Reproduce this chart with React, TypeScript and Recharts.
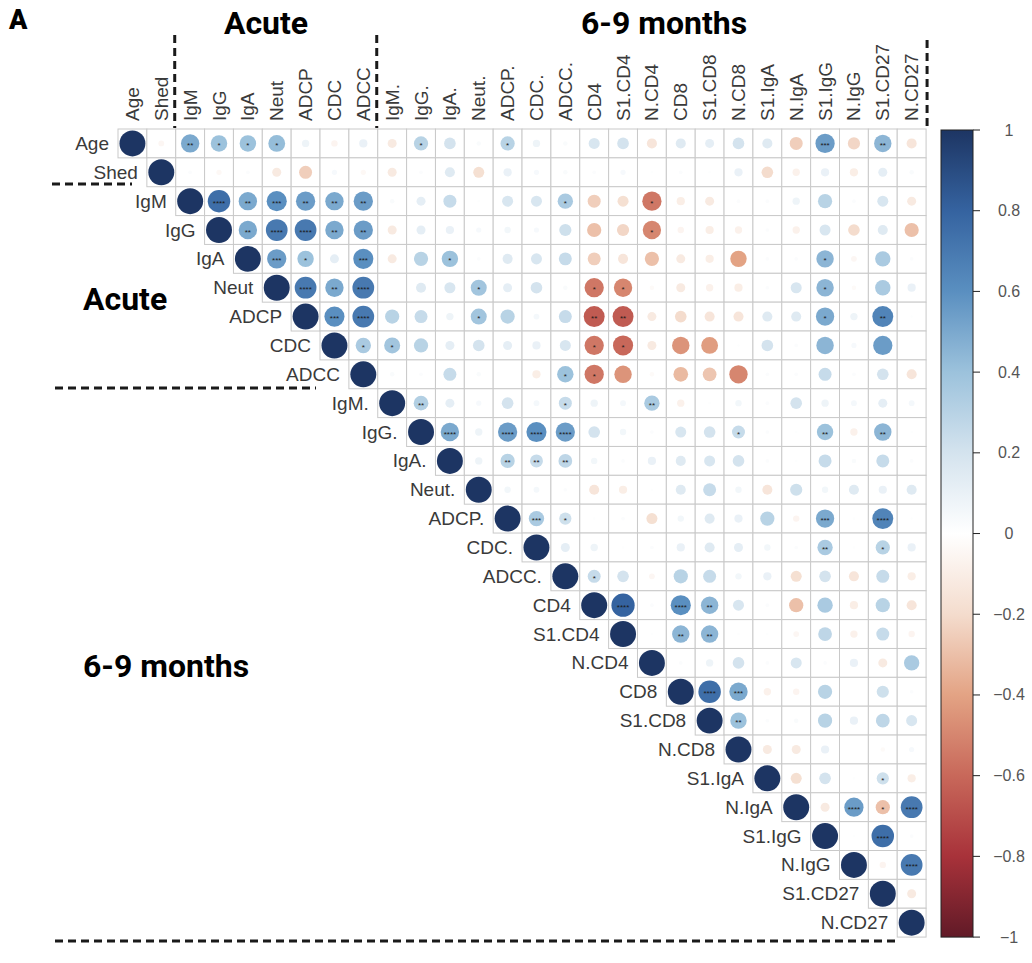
import React from "react";
import { ScatterChart, Scatter, XAxis, YAxis } from "recharts";

const variables = [
  "Age", "Shed", "IgM", "IgG", "IgA", "Neut", "ADCP", "CDC", "ADCC",
  "IgM.", "IgG.", "IgA.", "Neut.", "ADCP.", "CDC.", "ADCC.",
  "CD4", "S1.CD4", "N.CD4", "CD8", "S1.CD8", "N.CD8",
  "S1.IgA", "N.IgA", "S1.IgG", "N.IgG", "S1.CD27", "N.CD27",
];

// each row starts at the diagonal and runs to the last column
const rowAge = [1, -0.05, 0.5, 0.4, 0.4, 0.42, 0.08, -0.06, 0.1, -0.12, 0.3, 0.2, 0.03, 0.3, 0.08, 0.03, 0.18, 0.2, -0.15, 0.15, 0.12, 0.2, 0.15, -0.25, 0.55, -0.22, 0.45, -0.15];
const rowShed = [1, 0.02, -0.04, 0.02, -0.12, -0.25, 0.04, -0.04, -0.12, 0.02, 0.15, -0.18, 0.1, 0.04, 0.03, 0.02, 0.04, 0.01, 0.02, 0.01, 0.1, -0.2, -0.08, 0.1, -0.1, 0.12, 0.03];
const rowIgM = [1, 0.75, 0.5, 0.6, 0.55, 0.5, 0.55, 0.03, 0.12, 0.25, 0.01, 0.18, 0.18, 0.35, -0.25, -0.18, -0.55, -0.1, -0.12, 0.02, 0.02, 0.08, 0.3, 0.02, 0.18, -0.12];
const rowIgG = [1, 0.5, 0.7, 0.7, 0.5, 0.55, -0.12, 0.12, 0.1, 0.04, 0.06, 0.04, 0.22, -0.3, -0.22, -0.5, -0.06, -0.1, -0.08, 0.02, -0.08, 0.18, -0.2, 0.15, -0.3];
const rowIgA = [1, 0.55, 0.4, 0.12, 0.6, -0.12, 0.3, 0.4, 0.02, 0.15, 0.18, 0.25, -0.25, -0.15, -0.3, -0.12, -0.1, -0.4, 0.02, 0.02, 0.45, -0.05, 0.35, 0.02];
const rowNeut = [1, 0.7, 0.5, 0.7, 0, 0.15, 0.18, 0.38, 0.12, 0.2, 0.03, -0.55, -0.5, -0.03, -0.12, -0.08, -0.1, 0.02, 0.18, 0.45, -0.03, 0.35, 0.1];
const rowADCP = [1, 0.6, 0.7, 0.3, 0.25, 0.08, 0.38, 0.3, 0.05, 0.25, -0.65, -0.65, -0.12, -0.2, -0.15, -0.15, 0.15, 0.15, 0.5, 0.08, 0.65, 0.01];
const rowCDC = [1, 0.35, 0.38, 0.3, 0.12, 0.2, 0.12, 0.1, 0.18, -0.55, -0.6, -0.12, -0.45, -0.42, 0.01, 0.2, 0.02, 0.45, 0.04, 0.55, 0];
const rowADCC = [1, 0.03, 0.02, 0.25, 0.03, 0, -0.1, 0.4, -0.55, -0.45, -0.03, -0.32, -0.28, -0.5, 0.02, 0.02, 0.25, 0.02, 0.2, -0.15];
const rowIgM6 = [1, 0.32, 0.12, 0.04, 0.2, 0.05, 0.25, 0.08, 0.05, 0.35, -0.08, 0.01, 0.06, 0.02, 0.2, 0.08, 0.05, 0.12, 0.05];
const rowIgG6 = [1, 0.5, 0.08, 0.55, 0.6, 0.55, 0.2, 0.06, 0.02, 0.18, 0.2, 0.25, 0.02, 0.01, 0.4, -0.08, 0.45, 0.01];
const rowIgA6 = [1, 0.08, 0.3, 0.25, 0.28, 0.06, 0.02, 0.1, 0.15, 0.18, 0.2, 0.02, 0.01, 0.25, 0.03, 0.25, 0.02];
const rowNeut6 = [1, 0.06, 0.05, 0.02, -0.15, -0.1, 0.01, 0.15, 0.25, 0.06, -0.15, 0.22, 0.06, 0.15, 0.1, 0.15];
const rowADCP6 = [1, 0.35, 0.22, 0.01, 0.02, -0.18, 0.06, 0.15, 0.1, 0.3, -0.06, 0.5, 0.01, 0.65, 0.01];
const rowCDC6 = [1, 0.12, 0.08, 0.01, 0.02, 0.1, 0.15, 0.12, 0.06, 0.02, 0.35, 0.01, 0.3, 0.1];
const rowADCC6 = [1, 0.25, 0.2, -0.05, 0.3, 0.25, 0.06, 0.1, -0.18, 0.2, -0.15, 0.25, -0.1];
const rowCD4 = [1, 0.8, 0.02, 0.6, 0.45, 0.18, 0.02, -0.3, 0.35, -0.1, 0.3, -0.15];
const rowS1CD4 = [1, 0.01, 0.45, 0.45, 0.01, 0.01, -0.05, 0.28, -0.08, 0.25, -0.06];
const rowNCD4 = [1, 0.02, 0.08, 0.2, 0.02, 0.18, 0.02, 0.1, -0.12, 0.35];
const rowCD8 = [1, 0.75, 0.5, -0.08, -0.06, 0.3, 0, 0.22, 0.02];
const rowS1CD8 = [1, 0.4, 0.02, 0.03, 0.3, 0.1, 0.28, 0.18];
const rowNCD8 = [1, -0.12, -0.12, 0.1, 0, -0.03, 0.04];
const rowS1IgA = [1, -0.18, 0.2, 0.01, 0.22, -0.1];
const rowNIgA = [1, -0.12, 0.55, -0.3, 0.7];
const rowS1IgG = [1, 0.01, 0.75, 0.02];
const rowNIgG = [1, -0.06, 0.7];
const rowS1CD27 = [1, -0.12];
const rowNCD27 = [1];

const rows = [
  rowAge, rowShed, rowIgM, rowIgG, rowIgA, rowNeut, rowADCP, rowCDC, rowADCC,
  rowIgM6, rowIgG6, rowIgA6, rowNeut6, rowADCP6, rowCDC6, rowADCC6,
  rowCD4, rowS1CD4, rowNCD4, rowCD8, rowS1CD8, rowNCD8,
  rowS1IgA, rowNIgA, rowS1IgG, rowNIgG, rowS1CD27, rowNCD27,
];

// significance labels: [row, column, stars]
const significant: [string, string, string][] = [
  ["Age", "IgM", "**"], ["Age", "IgG", "*"], ["Age", "IgA", "*"], ["Age", "Neut", "*"],
  ["Age", "IgG.", "*"], ["Age", "ADCP.", "*"], ["Age", "S1.IgG", "***"], ["Age", "S1.CD27", "**"],
  ["IgM", "IgG", "****"], ["IgM", "IgA", "**"], ["IgM", "Neut", "***"], ["IgM", "ADCP", "**"],
  ["IgM", "CDC", "**"], ["IgM", "ADCC", "**"], ["IgM", "ADCC.", "*"], ["IgM", "N.CD4", "*"],
  ["IgG", "IgA", "**"], ["IgG", "Neut", "****"], ["IgG", "ADCP", "****"], ["IgG", "CDC", "**"],
  ["IgG", "ADCC", "**"], ["IgG", "N.CD4", "*"],
  ["IgA", "Neut", "***"], ["IgA", "ADCP", "*"], ["IgA", "ADCC", "***"], ["IgA", "IgA.", "*"], ["IgA", "S1.IgG", "*"],
  ["Neut", "ADCP", "****"], ["Neut", "CDC", "**"], ["Neut", "ADCC", "****"], ["Neut", "Neut.", "*"],
  ["Neut", "CD4", "*"], ["Neut", "S1.CD4", "*"], ["Neut", "S1.IgG", "*"],
  ["ADCP", "CDC", "***"], ["ADCP", "ADCC", "****"], ["ADCP", "Neut.", "*"], ["ADCP", "CD4", "**"],
  ["ADCP", "S1.CD4", "**"], ["ADCP", "S1.IgG", "*"], ["ADCP", "S1.CD27", "**"],
  ["CDC", "ADCC", "*"], ["CDC", "IgM.", "*"], ["CDC", "CD4", "*"], ["CDC", "S1.CD4", "*"],
  ["ADCC", "ADCC.", "*"], ["ADCC", "CD4", "*"],
  ["IgM.", "IgG.", "**"], ["IgM.", "ADCC.", "*"], ["IgM.", "N.CD4", "**"],
  ["IgG.", "IgA.", "****"], ["IgG.", "ADCP.", "****"], ["IgG.", "CDC.", "****"], ["IgG.", "ADCC.", "****"],
  ["IgG.", "N.CD8", "*"], ["IgG.", "S1.IgG", "**"], ["IgG.", "S1.CD27", "**"],
  ["IgA.", "ADCP.", "**"], ["IgA.", "CDC.", "**"], ["IgA.", "ADCC.", "**"],
  ["ADCP.", "CDC.", "***"], ["ADCP.", "ADCC.", "*"], ["ADCP.", "S1.IgG", "***"], ["ADCP.", "S1.CD27", "****"],
  ["CDC.", "S1.IgG", "**"], ["CDC.", "S1.CD27", "*"],
  ["ADCC.", "CD4", "*"],
  ["CD4", "S1.CD4", "****"], ["CD4", "CD8", "****"], ["CD4", "S1.CD8", "**"],
  ["S1.CD4", "CD8", "**"], ["S1.CD4", "S1.CD8", "**"],
  ["CD8", "S1.CD8", "****"], ["CD8", "N.CD8", "***"],
  ["S1.CD8", "N.CD8", "**"],
  ["S1.IgA", "S1.CD27", "*"],
  ["N.IgA", "N.IgG", "****"], ["N.IgA", "S1.CD27", "*"], ["N.IgA", "N.CD27", "****"],
  ["S1.IgG", "S1.CD27", "****"],
  ["N.IgG", "N.CD27", "****"],
];

const colorbarTicks = [1, 0.8, 0.6, 0.4, 0.2, 0, -0.2, -0.4, -0.6, -0.8, -1];
// RdBu ramp, slightly muted like the printed figure
const palette = ["#611a27", "#a8323a", "#c8685a", "#e3a384", "#f4dccd", "#ffffff", "#d4e3ee", "#9cc2dc", "#5a8fc0", "#3563a0", "#1d3563"];

const CELL = 28.86;
const LEFT = 118;
const TOP = 129;
const N = variables.length;
const SIZE = CELL * N;
const W = 1032;
const H = 963;
const AXIS_H = 30;
const LABEL_FONT = "'Liberation Sans', Arial, Helvetica, sans-serif";
const TITLE_FONT = "Roboto, 'Noto Sans', sans-serif";

function hexToRgb(h: string) {
  return [1, 3, 5].map((i) => parseInt(h.slice(i, i + 2), 16));
}

function corrColor(r: number) {
  const t = ((r + 1) / 2) * (palette.length - 1);
  const i = Math.min(Math.floor(t), palette.length - 2);
  const f = t - i;
  const a = hexToRgb(palette[i]);
  const b = hexToRgb(palette[i + 1]);
  const c = a.map((v, k) => Math.round(v + (b[k] - v) * f));
  return `rgb(${c[0]},${c[1]},${c[2]})`;
}

const starLookup: Record<string, string> = {};
significant.forEach(([r, c, s]) => {
  starLookup[r + "|" + c] = s;
});

const cells = rows.flatMap((vals, i) =>
  vals.map((r, k) => ({
    x: i + k,
    y: i,
    r,
    stars: starLookup[variables[i] + "|" + variables[i + k]] || "",
  }))
);
const diagonal = variables.map((name, i) => ({ x: i, y: i, name }));

function GridCell(props: any) {
  const { cx, cy } = props;
  const h = CELL / 2;
  return <rect x={cx - h} y={cy - h} width={CELL} height={CELL} fill="#fff" stroke="#c9c9c9" strokeWidth={1} />;
}

function CorrCircle(props: any) {
  const { cx, cy, payload } = props;
  const rad = 0.45 * Math.sqrt(Math.abs(payload.r)) * CELL;
  return (
    <g>
      {rad > 0 && <circle cx={cx} cy={cy} r={rad} fill={corrColor(payload.r)} />}
      {payload.stars && (
        <text x={cx} y={cy + 4.5} textAnchor="middle" fontSize={8} fill="#1a1a1a" fontFamily={LABEL_FONT}>
          {payload.stars}
        </text>
      )}
    </g>
  );
}

function RowLabel(props: any) {
  const { cx, cy, payload } = props;
  return (
    <text x={cx - CELL / 2 - 9} y={cy} textAnchor="end" dominantBaseline="central" fontSize={19} fill="#3a3a3a" fontFamily={LABEL_FONT}>
      {payload.name}
    </text>
  );
}

function ColLabel(props: any) {
  const { x, payload } = props;
  const y = TOP - 8;
  return (
    <text x={x} y={y} transform={`rotate(-90 ${x} ${y})`} textAnchor="start" dominantBaseline="central" fontSize={19} fill="#3a3a3a" fontFamily={LABEL_FONT}>
      {variables[payload.value]}
    </text>
  );
}

function Dash({ x1, y1, x2, y2 }: { x1: number; y1: number; x2: number; y2: number }) {
  return <line x1={x1} y1={y1} x2={x2} y2={y2} stroke="#1a1a1a" strokeWidth={3} strokeDasharray="8 5" />;
}

function Overlay() {
  const barX = 941;
  const barW = 32;
  const barTop = TOP + 1;
  const barBottom = TOP + SIZE;
  const tickY = (v: number) => barTop + ((1 - v) / 2) * (barBottom - barTop);
  return (
    <svg width={W} height={H} style={{ position: "absolute", left: 0, top: 0, pointerEvents: "none" }}>
      <defs>
        <linearGradient id="cbar" x1="0" y1="1" x2="0" y2="0">
          {palette.map((c, i) => (
            <stop key={i} offset={i / (palette.length - 1)} stopColor={c} />
          ))}
        </linearGradient>
      </defs>
      <text x={9} y={29} fontSize={27} fontWeight={900} fontFamily={TITLE_FONT} fill="#000">A</text>
      <text x={266} y={34} textAnchor="middle" fontSize={32} fontWeight={700} fontFamily={TITLE_FONT} fill="#000">Acute</text>
      <text x={664} y={34} textAnchor="middle" fontSize={32} fontWeight={700} fontFamily={TITLE_FONT} fill="#000">6-9 months</text>
      <text x={83} y={310} fontSize={32} fontWeight={700} fontFamily={TITLE_FONT} fill="#000">Acute</text>
      <text x={83} y={677} fontSize={32} fontWeight={700} fontFamily={TITLE_FONT} fill="#000">6-9 months</text>

      <Dash x1={LEFT + 2 * CELL - 1} y1={35} x2={LEFT + 2 * CELL - 1} y2={128} />
      <Dash x1={LEFT + 9 * CELL - 1} y1={35} x2={LEFT + 9 * CELL - 1} y2={128} />
      <Dash x1={LEFT + SIZE + 1} y1={40} x2={LEFT + SIZE + 1} y2={128} />
      <Dash x1={52} y1={184} x2={132} y2={184} />
      <Dash x1={55} y1={388} x2={316} y2={388} />
      <Dash x1={55} y1={941} x2={900} y2={941} />

      <rect x={barX} y={barTop} width={barW} height={barBottom - barTop} fill="url(#cbar)" stroke="#222" strokeWidth={1} />
      {colorbarTicks.map((v) => (
        <g key={v}>
          <line x1={barX + barW} y1={tickY(v)} x2={barX + barW + 7} y2={tickY(v)} stroke="#222" strokeWidth={1} />
          <text x={1009} y={tickY(v)} textAnchor="middle" dominantBaseline="central" fontSize={16} fill="#555" fontFamily={LABEL_FONT}>
            {v < 0 ? "\u2212" + Math.abs(v) : String(v)}
          </text>
        </g>
      ))}
    </svg>
  );
}

export default function App() {
  return (
    <div style={{ position: "absolute", left: 0, top: 0, width: W, height: H, background: "#fff" }}>
      <ScatterChart
        width={W}
        height={H}
        margin={{ top: TOP - AXIS_H, left: LEFT, right: W - LEFT - SIZE, bottom: H - TOP - SIZE }}>
        <XAxis
          type="number"
          dataKey="x"
          orientation="top"
          domain={[-0.5, N - 0.5]}
          ticks={variables.map((_, i) => i)}
          interval={0}
          height={AXIS_H}
          axisLine={false}
          tickLine={false}
          tick={<ColLabel />}
        />
        <YAxis type="number" dataKey="y" domain={[-0.5, N - 0.5]} reversed hide />
        <Scatter data={cells} shape={<GridCell />} isAnimationActive={false} />
        <Scatter data={cells} shape={<CorrCircle />} isAnimationActive={false} />
        <Scatter data={diagonal} shape={<RowLabel />} isAnimationActive={false} />
      </ScatterChart>
      <Overlay />
    </div>
  );
}
